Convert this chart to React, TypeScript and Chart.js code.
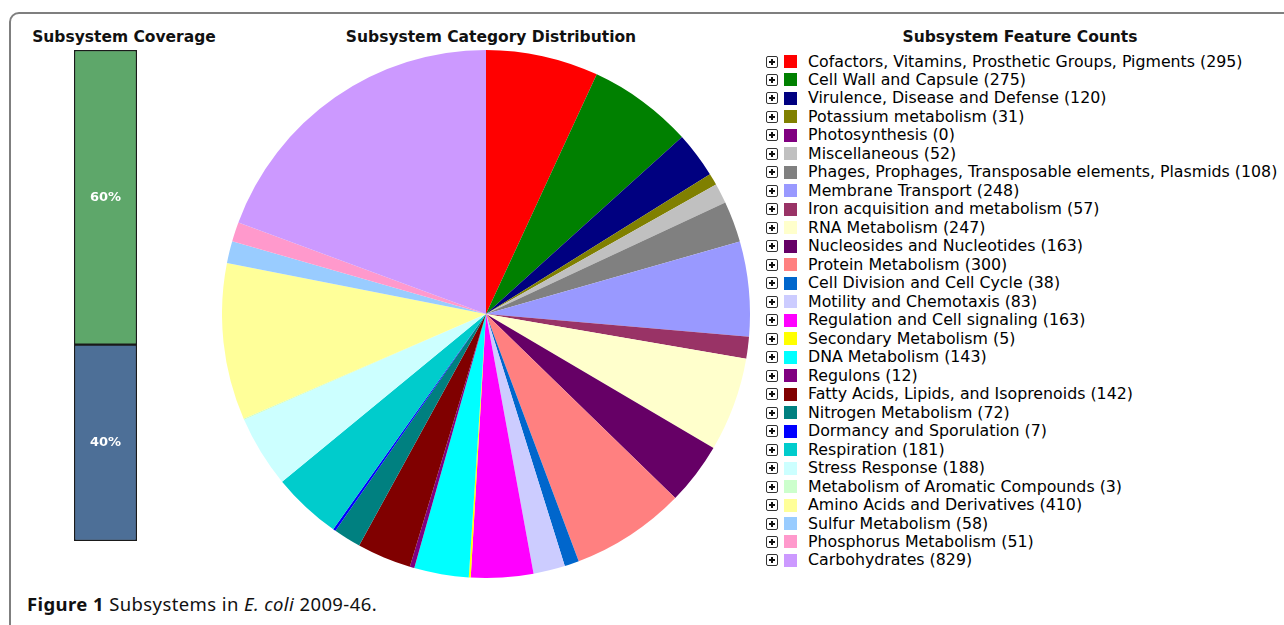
import React, { useEffect, useRef } from "react";
import { Chart, registerables } from "chart.js";

Chart.register(...registerables);

const categories = [
  "Cofactors, Vitamins, Prosthetic Groups, Pigments",
  "Cell Wall and Capsule",
  "Virulence, Disease and Defense",
  "Potassium metabolism",
  "Photosynthesis",
  "Miscellaneous",
  "Phages, Prophages, Transposable elements, Plasmids",
  "Membrane Transport",
  "Iron acquisition and metabolism",
  "RNA Metabolism",
  "Nucleosides and Nucleotides",
  "Protein Metabolism",
  "Cell Division and Cell Cycle",
  "Motility and Chemotaxis",
  "Regulation and Cell signaling",
  "Secondary Metabolism",
  "DNA Metabolism",
  "Regulons",
  "Fatty Acids, Lipids, and Isoprenoids",
  "Nitrogen Metabolism",
  "Dormancy and Sporulation",
  "Respiration",
  "Stress Response",
  "Metabolism of Aromatic Compounds",
  "Amino Acids and Derivatives",
  "Sulfur Metabolism",
  "Phosphorus Metabolism",
  "Carbohydrates",
];

const featureCounts = [
  295, 275, 120, 31, 0, 52, 108, 248, 57, 247, 163, 300, 38, 83, 163, 5, 143, 12,
  142, 72, 7, 181, 188, 3, 410, 58, 51, 829,
];

const sliceColors = [
  "#FF0000", "#008000", "#000080", "#808000", "#800080", "#C0C0C0", "#808080",
  "#9999FF", "#993366", "#FFFFCC", "#660066", "#FF8080", "#0066CC", "#CCCCFF",
  "#FF00FF", "#FFFF00", "#00FFFF", "#800080", "#800000", "#008080", "#0000FF",
  "#00CCCC", "#CCFFFF", "#CCFFCC", "#FFFF99", "#99CCFF", "#FF99CC", "#CC99FF",
];

const coverageLabels = ["In subsystems", "Not in subsystems"];
const coverageValues = [60, 40];
const coverageColors = ["#5EA76A", "#4D6F97"];

const titleFont = "'DejaVu Sans', Verdana, sans-serif";

function CoverageBar() {
  const ref = useRef<HTMLCanvasElement>(null);
  useEffect(() => {
    if (!ref.current) return;
    const labelPlugin = {
      id: "pctLabels",
      afterDatasetsDraw(chart: any) {
        const ctx = chart.ctx;
        ctx.save();
        ctx.fillStyle = "#ffffff";
        ctx.font = `bold 13px ${titleFont}`;
        ctx.textAlign = "center";
        ctx.textBaseline = "middle";
        chart.data.datasets.forEach((ds: any, i: number) => {
          const meta = chart.getDatasetMeta(i);
          meta.data.forEach((bar: any) => {
            const yMid = (bar.y + bar.base) / 2;
            ctx.fillText(`${ds.data[0]}%`, bar.x, yMid);
          });
        });
        ctx.restore();
      },
    };
    const chart = new Chart(ref.current, {
      type: "bar",
      data: {
        labels: ["Coverage"],
        datasets: [
          {
            label: coverageLabels[1],
            data: [coverageValues[1]],
            backgroundColor: coverageColors[1],
            borderColor: "#1a1a1a",
            borderWidth: 1.5,
            borderSkipped: false,
            barPercentage: 1,
            categoryPercentage: 1,
          },
          {
            label: coverageLabels[0],
            data: [coverageValues[0]],
            backgroundColor: coverageColors[0],
            borderColor: "#1a1a1a",
            borderWidth: 1.5,
            borderSkipped: false,
            barPercentage: 1,
            categoryPercentage: 1,
          },
        ],
      },
      options: {
        animation: false,
        responsive: true,
        maintainAspectRatio: false,
        layout: { padding: 0 },
        plugins: { legend: { display: false }, tooltip: { enabled: false } },
        scales: {
          x: { stacked: true, display: false },
          y: { stacked: true, display: false, min: 0, max: 100 },
        },
      },
      plugins: [labelPlugin],
    });
    return () => chart.destroy();
  }, []);
  return (
    <div style={{ position: "absolute", left: 74, top: 50, width: 63, height: 491 }}>
      <canvas ref={ref} />
    </div>
  );
}

function CategoryPie() {
  const ref = useRef<HTMLCanvasElement>(null);
  useEffect(() => {
    if (!ref.current) return;
    const chart = new Chart(ref.current, {
      type: "pie",
      data: {
        labels: categories,
        datasets: [
          {
            data: featureCounts,
            backgroundColor: sliceColors,
            borderWidth: 0,
          },
        ],
      },
      options: {
        animation: false,
        responsive: true,
        maintainAspectRatio: false,
        layout: { padding: 0 },
        plugins: { legend: { display: false }, tooltip: { enabled: false } },
      },
    });
    return () => chart.destroy();
  }, []);
  return (
    <div style={{ position: "absolute", left: 222, top: 50, width: 528, height: 528 }}>
      <canvas ref={ref} />
    </div>
  );
}

function PlusIcon() {
  return (
    <span
      style={{
        position: "relative",
        display: "inline-block",
        width: 10,
        height: 10,
        border: "1px solid #333",
        borderRadius: 2,
        boxSizing: "content-box",
      }}
    >
      <span style={{ position: "absolute", left: 2, top: 4, width: 6, height: 2, background: "#111" }} />
      <span style={{ position: "absolute", left: 4, top: 2, width: 2, height: 6, background: "#111" }} />
    </span>
  );
}

function Legend() {
  return (
    <div style={{ position: "absolute", left: 766, top: 52.5 }}>
      {categories.map((c, i) => (
        <div
          key={c}
          style={{
            position: "absolute",
            top: i * 18.48,
            left: 0,
            height: 18,
            display: "flex",
            alignItems: "center",
            whiteSpace: "nowrap",
          }}
        >
          <PlusIcon />
          <span
            style={{
              display: "inline-block",
              width: 13,
              height: 13,
              background: sliceColors[i],
              marginLeft: 6,
            }}
          />
          <span
            style={{
              marginLeft: 11,
              fontFamily: titleFont,
              fontSize: 15.8,
              color: "#000",
              lineHeight: "18px",
            }}
          >
            {`${c} (${featureCounts[i]})`}
          </span>
        </div>
      ))}
    </div>
  );
}

const titleStyle: React.CSSProperties = {
  position: "absolute",
  top: 27,
  fontFamily: titleFont,
  fontWeight: "bold",
  fontSize: 15.5,
  lineHeight: "20px",
  color: "#111",
  whiteSpace: "nowrap",
  transform: "translateX(-50%)",
};

export default function App() {
  return (
    <div
      style={{
        position: "absolute",
        left: 0,
        top: 0,
        width: 1284,
        height: 625,
        overflow: "hidden",
        background: "#fff",
      }}
    >
      <div
        style={{
          position: "absolute",
          left: 9,
          top: 12,
          width: 1400,
          height: 800,
          border: "2px solid #7f7f7f",
          borderTopLeftRadius: 10,
        }}
      />
      <div style={{ ...titleStyle, left: 124 }}>Subsystem Coverage</div>
      <div style={{ ...titleStyle, left: 491 }}>Subsystem Category Distribution</div>
      <div style={{ ...titleStyle, left: 1020 }}>Subsystem Feature Counts</div>
      <CoverageBar />
      <CategoryPie />
      <Legend />
      <div
        style={{
          position: "absolute",
          left: 27,
          top: 593,
          fontFamily: "'Noto Sans', 'Open Sans', sans-serif",
          fontSize: 18.5,
          letterSpacing: 0.4,
          lineHeight: "22px",
          color: "#111",
          whiteSpace: "nowrap",
        }}
      >
        <b>Figure 1</b> Subsystems in <i>E. coli</i> 2009-46.
      </div>
    </div>
  );
}
